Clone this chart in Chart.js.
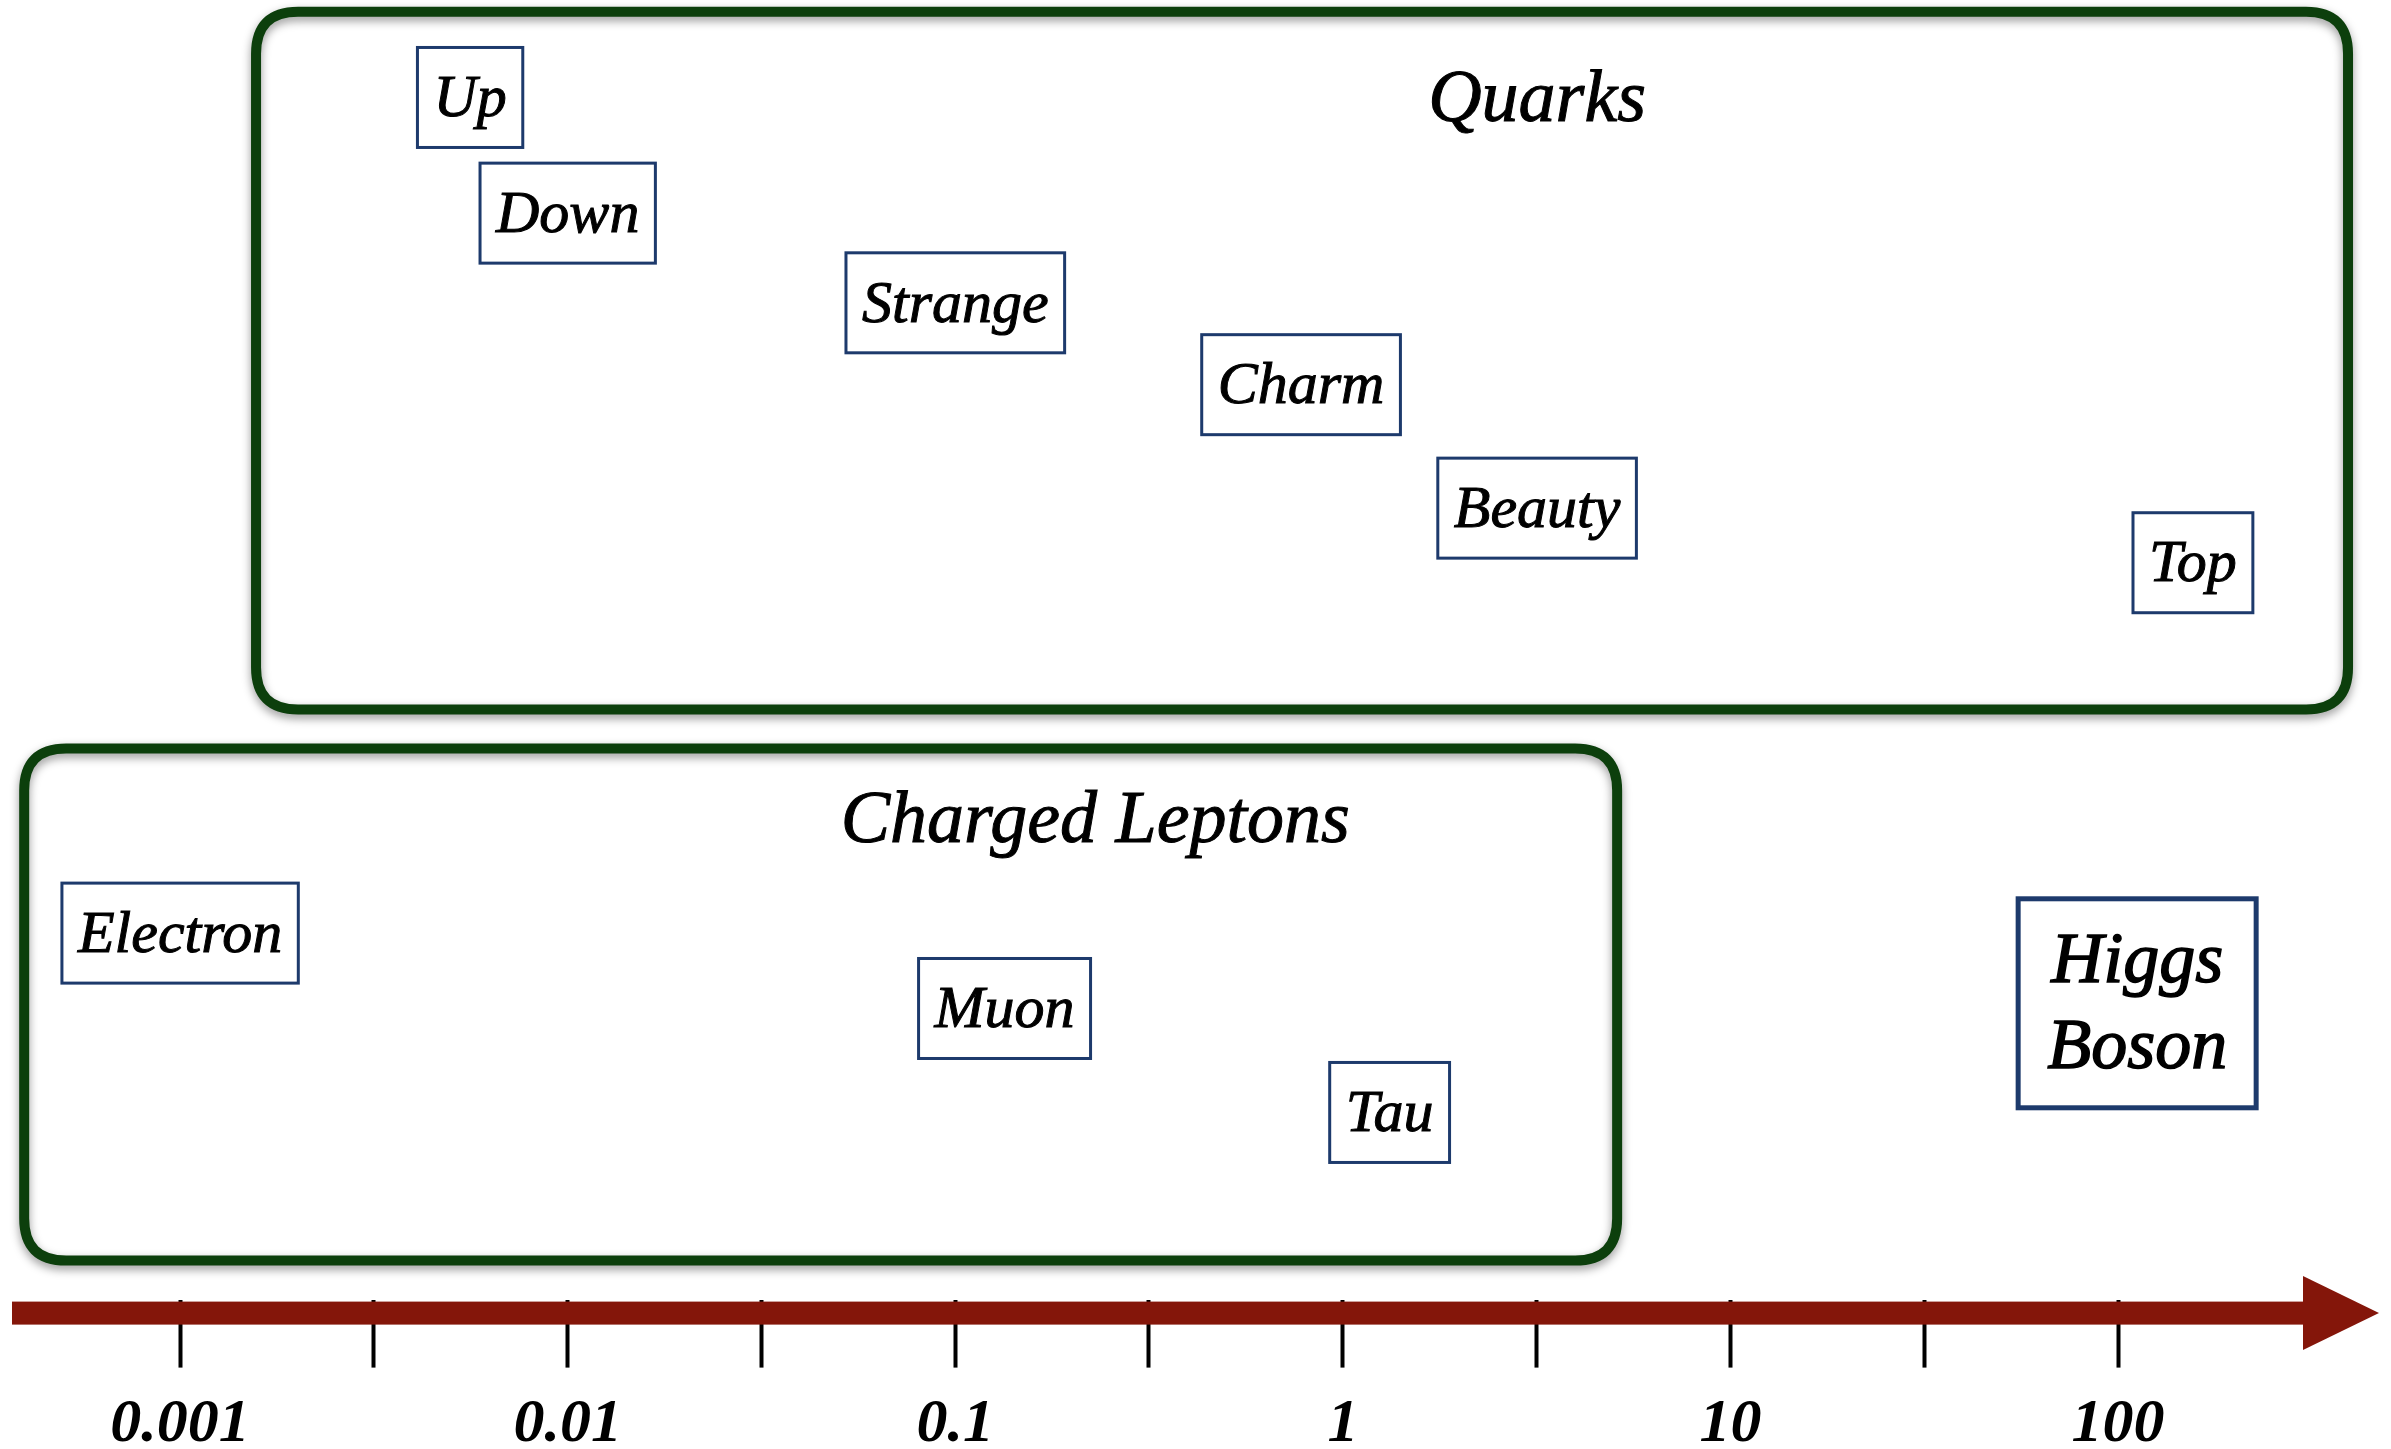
<!DOCTYPE html>
<html>
<head>
<meta charset="utf-8">
<script src="https://cdn.jsdelivr.net/npm/chart.js@4/dist/chart.umd.min.js"></script>
<style>
  body { margin: 0; background: #fff; }
  canvas { display: block; }
</style>
</head>
<body>
<canvas id="canvas" width="2391" height="1449"></canvas>
<script>
// particle labels: mass position (GeV, log axis) and row height (0-100)
var particleNames = ['Up', 'Down', 'Strange', 'Charm', 'Beauty', 'Top', 'Electron', 'Muon', 'Tau', 'Higgs\nBoson'];
var particleMass = [0.0056, 0.0100, 0.100, 0.78, 3.17, 156, 0.001, 0.134, 1.32, 112];
var particleRow = [92.5, 83.6, 76.7, 70.4, 60.9, 56.7, 28.2, 22.4, 14.4, 22.8];

// the two rounded group frames
var groupNames = ['Quarks', 'Charged Leptons'];
var groupFrom = [0.00157, 0.000396];
var groupTo = [392, 5.10];
var groupTop = [99.1, 42.4];
var groupBottom = [45.4, 3.0];
var groupTitleMass = [3.17, 0.2297];
var groupTitleRow = [92.2, 36.7];

// axis
var tickValues = [0.001, 0.00316, 0.01, 0.0316, 0.1, 0.316, 1, 3.16, 10, 31.6, 100];
var tickLabels = ['0.001', '', '0.01', '', '0.1', '', '1', '', '10', '', '100'];
var axisMin = 3.43e-4;
var axisMax = 506;

var serif = '"Liberation Serif", "DejaVu Serif", serif';
var green = '#0c3f0c';
var navy = '#1d3a6c';
var red = '#84160a';

function roundRect(ctx, x, y, w, h, r) {
  ctx.beginPath();
  ctx.moveTo(x + r, y);
  ctx.lineTo(x + w - r, y);
  ctx.quadraticCurveTo(x + w, y, x + w, y + r);
  ctx.lineTo(x + w, y + h - r);
  ctx.quadraticCurveTo(x + w, y + h, x + w - r, y + h);
  ctx.lineTo(x + r, y + h);
  ctx.quadraticCurveTo(x, y + h, x, y + h - r);
  ctx.lineTo(x, y + r);
  ctx.quadraticCurveTo(x, y, x + r, y);
  ctx.closePath();
}

var groupsPlugin = {
  id: 'groups',
  beforeDatasetsDraw: function(chart) {
    var ctx = chart.ctx, xs = chart.scales.x, ys = chart.scales.y;
    for (var i = 0; i < groupNames.length; i++) {
      var x1 = xs.getPixelForValue(groupFrom[i]);
      var x2 = xs.getPixelForValue(groupTo[i]);
      var y1 = ys.getPixelForValue(groupTop[i]);
      var y2 = ys.getPixelForValue(groupBottom[i]);
      ctx.save();
      ctx.shadowColor = 'rgba(0,0,0,0.4)';
      ctx.shadowBlur = 10;
      ctx.shadowOffsetY = 4;
      ctx.strokeStyle = green;
      ctx.lineWidth = 10;
      roundRect(ctx, x1, y1, x2 - x1, y2 - y1, 42);
      ctx.stroke();
      ctx.restore();

      ctx.save();
      ctx.fillStyle = '#000';
      ctx.strokeStyle = '#000';
      ctx.lineWidth = 1;
      ctx.font = 'italic 74px ' + serif;
      ctx.textAlign = 'center';
      ctx.textBaseline = 'middle';
      var tx = xs.getPixelForValue(groupTitleMass[i]), ty = ys.getPixelForValue(groupTitleRow[i]);
      ctx.fillText(groupNames[i], tx, ty);
      ctx.strokeText(groupNames[i], tx, ty);
      ctx.restore();
    }
  }
};

var labelsPlugin = {
  id: 'boxLabels',
  afterDatasetsDraw: function(chart) {
    var ctx = chart.ctx;
    var meta = chart.getDatasetMeta(0);
    meta.data.forEach(function(pt, i) {
      var lines = particleNames[i].split('\n');
      var big = lines.length > 1;
      var size = big ? 72 : 60;
      var lh = big ? 86 : 0;
      ctx.save();
      ctx.font = 'italic ' + size + 'px ' + serif;
      var w = 0;
      lines.forEach(function(l) { w = Math.max(w, ctx.measureText(l).width); });
      var bw = w + (big ? 58 : 32);
      var bh = big ? 209 : 100;
      var bx = pt.x - bw / 2, by = pt.y - bh / 2;
      ctx.fillStyle = '#fff';
      ctx.fillRect(bx, by, bw, bh);
      ctx.strokeStyle = navy;
      ctx.lineWidth = big ? 5 : 3;
      ctx.strokeRect(bx, by, bw, bh);
      ctx.fillStyle = '#000';
      ctx.strokeStyle = '#000';
      ctx.lineWidth = big ? 1.5 : 1;
      ctx.textAlign = 'center';
      ctx.textBaseline = 'middle';
      lines.forEach(function(l, k) {
        var ty = pt.y + (k - (lines.length - 1) / 2) * lh + 3;
        ctx.fillText(l, pt.x, ty);
        ctx.strokeText(l, pt.x, ty);
      });
      ctx.restore();
    });
  }
};

var arrowPlugin = {
  id: 'arrow',
  afterDraw: function(chart) {
    var ctx = chart.ctx, xs = chart.scales.x, area = chart.chartArea;
    var top = xs.top + 2, h = 23, mid = top + h / 2;
    var x0 = area.left + 12, tip = area.right - 12, base = tip - 76;
    ctx.save();
    ctx.fillStyle = red;
    ctx.fillRect(x0, top, base - x0, h);
    ctx.beginPath();
    ctx.moveTo(base, mid - 37);
    ctx.lineTo(tip, mid);
    ctx.lineTo(base, mid + 37);
    ctx.closePath();
    ctx.fill();
    ctx.restore();
  }
};

var points = particleMass.map(function(m, i) { return { x: m, y: particleRow[i] }; });

var config = {
  type: 'scatter',
  data: {
    datasets: [{
      label: 'particles',
      data: points,
      pointRadius: 0,
      pointHoverRadius: 0
    }]
  },
  options: {
    responsive: false,
    animation: false,
    devicePixelRatio: 1,
    layout: { padding: { top: 0, left: 0, right: 0, bottom: -33 } },
    plugins: {
      legend: { display: false },
      tooltip: { enabled: false },
      title: { display: false }
    },
    scales: {
      x: {
        type: 'logarithmic',
        min: axisMin,
        max: axisMax,
        bounds: 'data',
        afterBuildTicks: function(scale) {
          scale.ticks = tickValues.map(function(v) { return { value: v }; });
        },
        border: { display: false },
        grid: {
          drawOnChartArea: false,
          drawTicks: true,
          tickLength: 68,
          tickWidth: 4,
          tickColor: '#000'
        },
        ticks: {
          autoSkip: false,
          maxRotation: 0,
          padding: 20,
          color: '#000',
          font: { family: serif, size: 62, style: 'italic', weight: 'bold' },
          callback: function(value, index) { return tickLabels[index]; }
        }
      },
      y: {
        display: false,
        min: 0,
        max: 100
      }
    }
  },
  plugins: [groupsPlugin, labelsPlugin, arrowPlugin]
};

var ctx = document.getElementById('canvas').getContext('2d');
window.myChart = new Chart(ctx, config);
</script>
</body>
</html>
